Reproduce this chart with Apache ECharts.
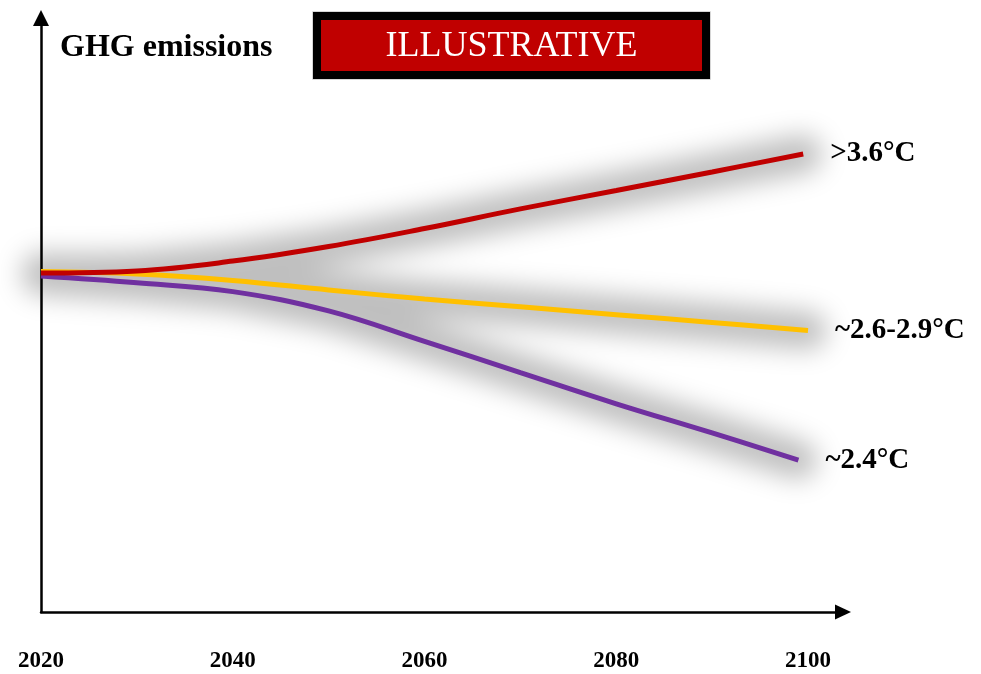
<!DOCTYPE html>
<html>
<head>
<meta charset="utf-8">
<script src="https://cdn.jsdelivr.net/npm/echarts@6/dist/echarts.min.js"></script>
<style>
  html, body { margin: 0; padding: 0; background: #fff; }
  #chart { width: 981px; height: 674px; }
</style>
</head>
<body>
<div id="chart"></div>
<script>
// Emissions index (2020 = 100) along three warming pathways
var redYears = [2020, 2030, 2040, 2050, 2060, 2070, 2080, 2090, 2099.5];
var redValues = [100, 100.6, 103.5, 107.8, 113.1, 118.9, 124.3, 129.8, 135.1];

var yellowYears = [2020, 2030, 2040, 2050, 2060, 2070, 2080, 2090, 2100];
var yellowValues = [100.4, 99.7, 97.8, 95.0, 92.3, 90.0, 87.7, 85.4, 83.0];

var purpleYears = [2020, 2030, 2040, 2050, 2060, 2070, 2080, 2090, 2099];
var purpleValues = [99.1, 97.1, 94.5, 88.8, 79.8, 70.6, 61.4, 52.8, 44.8];

var scenarioLabels = ['>3.6°C', '~2.6-2.9°C', '~2.4°C'];
var tickYears = [2020, 2040, 2060, 2080, 2100];

var SERIF = '"Liberation Serif", "Times New Roman", serif';

// One soft grey halo around all three pathways. The wide stroke is pushed
// off-canvas and only its blurred shadow is shifted back under the curves,
// so overlapping parts of the halo do not stack up.
var HALO_SHIFT = 4000;
var haloSeries = {
  type: 'custom',
  coordinateSystem: 'cartesian2d',
  silent: true,
  clip: false,
  z: 2,
  data: [[redYears[0], redValues[0]]],
  renderItem: function (params, api) {
    var d = '';
    [[purpleYears, purpleValues], [yellowYears, yellowValues], [redYears, redValues]].forEach(function (s) {
      s[0].forEach(function (yr, i) {
        var p = api.coord([yr, s[1][i]]);
        d += (i === 0 ? 'M' : 'L') + p[0].toFixed(1) + ' ' + p[1].toFixed(1) + ' ';
      });
    });
    return {
      type: 'path',
      y: -HALO_SHIFT,
      shape: { pathData: d },
      style: {
        fill: 'none',
        stroke: '#000',
        lineWidth: 38,
        lineCap: 'round',
        lineJoin: 'round',
        shadowBlur: 26,
        shadowColor: 'rgba(0,0,0,0.25)',
        shadowOffsetX: 0,
        shadowOffsetY: HALO_SHIFT
      }
    };
  }
};

function pathSeries(name, years, values, color, label, z) {
  return {
    name: name,
    type: 'line',
    z: z,
    smooth: 0.4,
    showSymbol: false,
    silent: true,
    data: years.map(function (yr, i) { return [yr, values[i]]; }),
    lineStyle: { color: color, width: 5 },
    endLabel: {
      show: true,
      formatter: label,
      distance: 27,
      color: '#000',
      fontSize: 29,
      fontWeight: 'bold',
      fontFamily: SERIF
    }
  };
}

var chart = echarts.init(document.getElementById('chart'), null, { renderer: 'canvas' });

chart.setOption({
  animation: false,
  backgroundColor: '#fff',
  title: {
    text: 'GHG emissions',
    left: 60,
    top: 32,
    padding: 0,
    textStyle: { fontSize: 32, fontWeight: 'bold', fontFamily: SERIF, color: '#000' }
  },
  grid: { left: 41, right: 138, top: 18, bottom: 62, containLabel: false },
  xAxis: {
    type: 'value',
    min: 2020,
    max: 2103.65,
    interval: 20,
    axisLine: {
      show: true,
      onZero: false,
      lineStyle: { color: '#000', width: 2.5 },
      symbol: ['none', 'triangle'],
      symbolSize: [15, 16]
    },
    axisTick: { show: false },
    splitLine: { show: false },
    axisLabel: {
      showMaxLabel: false,
      margin: 38,
      fontSize: 23,
      fontWeight: 'bold',
      fontFamily: SERIF,
      color: '#000',
      formatter: function (v) { return tickYears.indexOf(v) >= 0 ? String(v) : ''; }
    }
  },
  yAxis: {
    type: 'value',
    min: 0,
    max: 175.2,
    axisLine: {
      show: true,
      onZero: false,
      lineStyle: { color: '#000', width: 2.5 },
      symbol: ['none', 'triangle'],
      symbolSize: [16, 16]
    },
    axisTick: { show: false },
    axisLabel: { show: false },
    splitLine: { show: false }
  },
  graphic: [
    {
      type: 'rect',
      z: 20,
      shape: { x: 312.5, y: 11.5, width: 398, height: 68 },
      style: { fill: 'none', stroke: '#d6d6d6', lineWidth: 1 }
    },
    {
      type: 'rect',
      z: 21,
      shape: { x: 317, y: 16, width: 389, height: 59 },
      style: { fill: '#c00000', stroke: '#000', lineWidth: 8 }
    },
    {
      type: 'text',
      z: 22,
      x: 511.5,
      y: 47,
      style: {
        text: 'ILLUSTRATIVE',
        fill: '#fff',
        fontSize: 36,
        fontFamily: SERIF,
        align: 'center',
        verticalAlign: 'middle'
      }
    }
  ],
  series: [
    haloSeries,
    pathSeries('~2.4°C', purpleYears, purpleValues, '#7030a0', scenarioLabels[2], 3),
    pathSeries('~2.6-2.9°C', yellowYears, yellowValues, '#ffc000', scenarioLabels[1], 4),
    pathSeries('>3.6°C', redYears, redValues, '#c00000', scenarioLabels[0], 5)
  ]
});
</script>
</body>
</html>
